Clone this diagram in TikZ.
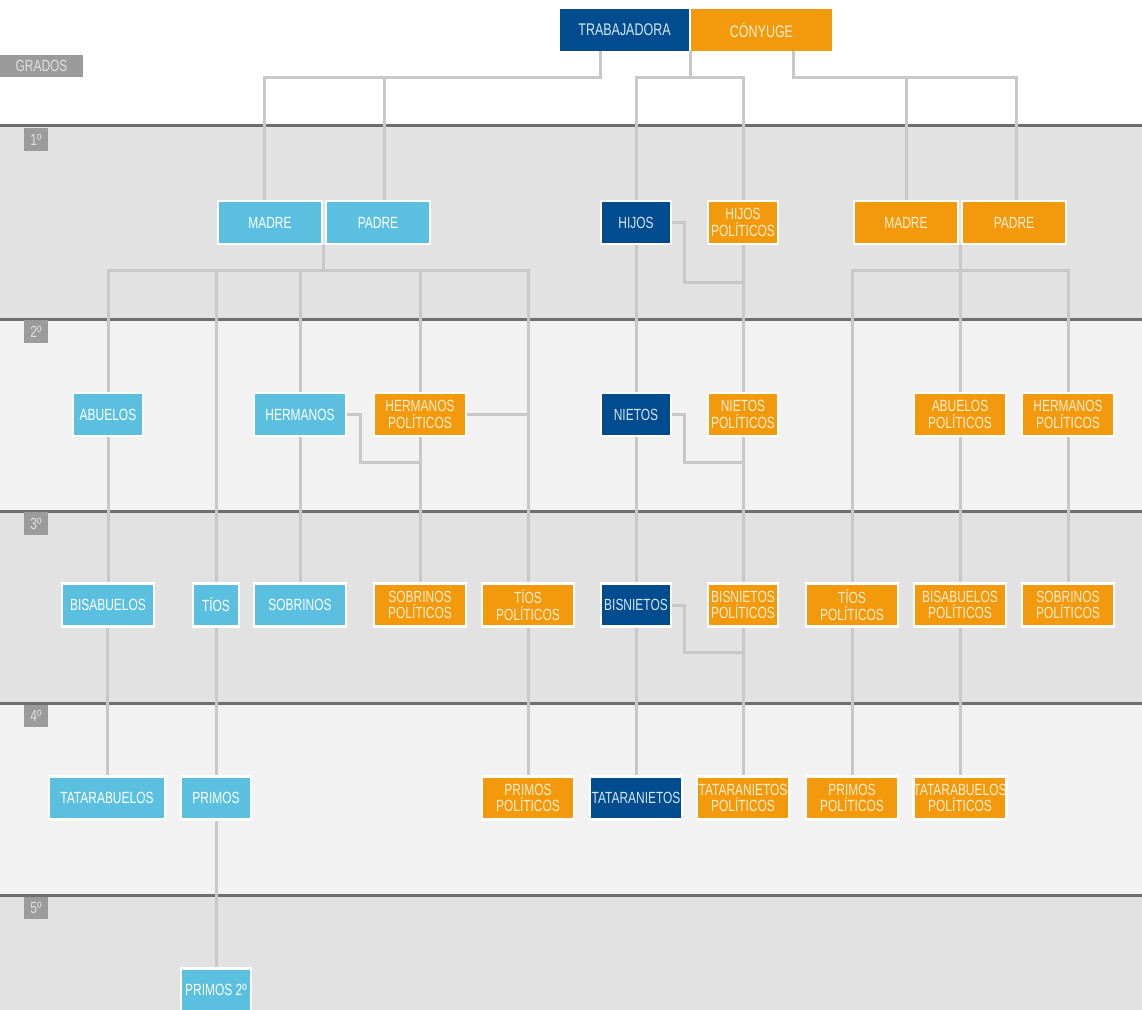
\documentclass[tikz,border=0pt]{standalone}
\usepackage{fontspec}
\usepackage{xcolor}
\usepackage{tikz}
\usetikzlibrary{backgrounds}
\newfontfamily\condfont{Liberation Sans}[FakeStretch=0.74]
\definecolor{myblue}{RGB}{91,192,224}
\definecolor{mynavy}{RGB}{0,76,142}
\definecolor{myorange}{RGB}{243,153,12}
\definecolor{mywire}{RGB}{200,200,200}
\definecolor{mysep}{RGB}{110,110,110}
\definecolor{banddark}{RGB}{226,226,226}
\definecolor{bandlight}{RGB}{242,242,242}
\definecolor{tagbg}{RGB}{155,155,155}
\definecolor{txtorange}{RGB}{255,238,210}
\definecolor{txtnavy}{RGB}{215,230,245}
\tikzset{
  famnode/.style={rectangle, draw=white, line width=0.048cm, inner sep=0pt,
    minimum height=0.86cm, align=center,
    font=\condfont\fontsize{9.2}{9.3}\selectfont},
  bluenode/.style={famnode, fill=myblue, text=white},
  navynode/.style={famnode, fill=mynavy, text=txtnavy},
  orangenode/.style={famnode, fill=myorange, text=txtorange},
  topnode/.style={rectangle, inner sep=0pt, minimum height=0.84cm,
    font=\condfont\fontsize{9.6}{9.6}\selectfont},
  tagnode/.style={rectangle, fill=tagbg, text=white!88!black, inner sep=0pt,
    minimum height=0.45cm, font=\condfont\fontsize{9.2}{9.2}\selectfont},
  conn/.style={draw=mywire, line width=0.06cm},
  sepline/.style={draw=mysep, line width=0.06cm}
}

\begin{document}
\begin{tikzpicture}[x=0.02cm, y=-0.02cm]
  \useasboundingbox (0,0) rectangle (1142,1010);

  % Grade bands
  \begin{pgfonlayer}{background}
    \fill[white] (0,0) rectangle (1142,126);
    \fill[banddark] (0,126) rectangle (1142,319);
    \fill[bandlight] (0,319) rectangle (1142,511);
    \fill[banddark] (0,511) rectangle (1142,703);
    \fill[bandlight] (0,703) rectangle (1142,895);
    \fill[banddark] (0,895) rectangle (1142,1010);
    \foreach \y in {126,319,511,703,895}
      \draw[sepline] (0,\y) -- (1142,\y);
  \end{pgfonlayer}

  % Grade tags
  \node[tagnode, minimum width=1.66cm] (grados) at (41.5,66) {GRADOS};
  \node[tagnode, minimum width=0.48cm] (g1) at (36,139.5) {1º};
  \node[tagnode, minimum width=0.48cm] (g2) at (36,331.5) {2º};
  \node[tagnode, minimum width=0.48cm] (g3) at (36,523.5) {3º};
  \node[tagnode, minimum width=0.48cm] (g4) at (36,716) {4º};
  \node[tagnode, minimum width=0.48cm] (g5) at (36,908) {5º};

  % Couple
  \node[topnode, fill=mynavy, text=txtnavy, minimum width=2.58cm] (trab) at (624.5,30) {TRABAJADORA};
  \node[topnode, fill=myorange, text=txtorange, minimum width=2.82cm] (cony) at (761.5,30) {CÓNYUGE};

  % Grade 1
  \node[bluenode, minimum width=2.08cm] (madre_t) at (270,222.5) {MADRE};
  \node[bluenode, minimum width=2.08cm] (padre_t) at (378,222.5) {PADRE};
  \node[navynode, minimum width=1.40cm] (hijos) at (636,222.5) {HIJOS};
  \node[orangenode, minimum width=1.40cm] (hijos_p) at (743,222.5) {HIJOS\\POLÍTICOS};
  \node[orangenode, minimum width=2.08cm] (madre_c) at (906,222.5) {MADRE};
  \node[orangenode, minimum width=2.08cm] (padre_c) at (1014,222.5) {PADRE};

  % Grade 2
  \node[bluenode, minimum width=1.40cm] (abuelos) at (108,414.5) {ABUELOS};
  \node[bluenode, minimum width=1.84cm] (hermanos) at (300,414.5) {HERMANOS};
  \node[orangenode, minimum width=1.84cm] (hermanos_p) at (420,414.5) {HERMANOS\\POLÍTICOS};
  \node[navynode, minimum width=1.40cm] (nietos) at (636,414.5) {NIETOS};
  \node[orangenode, minimum width=1.40cm] (nietos_p) at (743,414.5) {NIETOS\\POLÍTICOS};
  \node[orangenode, minimum width=1.84cm] (abuelos_c) at (960,414.5) {ABUELOS\\POLÍTICOS};
  \node[orangenode, minimum width=1.84cm] (hermanos_c) at (1068,414.5) {HERMANOS\\POLÍTICOS};

  % Grade 3
  \node[bluenode, minimum width=1.84cm] (bisabuelos) at (108,605) {BISABUELOS};
  \node[bluenode, minimum width=0.92cm] (tios) at (216,605) {TÍOS};
  \node[bluenode, minimum width=1.84cm] (sobrinos) at (300,605) {SOBRINOS};
  \node[orangenode, minimum width=1.84cm] (sobrinos_p) at (420,605) {SOBRINOS\\POLÍTICOS};
  \node[orangenode, minimum width=1.84cm] (tios_p) at (528,605) {TÍOS\\POLÍTICOS};
  \node[navynode, minimum width=1.40cm] (bisnietos) at (636,605) {BISNIETOS};
  \node[orangenode, minimum width=1.40cm] (bisnietos_p) at (743,605) {BISNIETOS\\POLÍTICOS};
  \node[orangenode, minimum width=1.84cm] (tios_c) at (852,605) {TÍOS\\POLÍTICOS};
  \node[orangenode, minimum width=1.84cm] (bisabuelos_c) at (960,605) {BISABUELOS\\POLÍTICOS};
  \node[orangenode, minimum width=1.84cm] (sobrinos_c) at (1068,605) {SOBRINOS\\POLÍTICOS};

  % Grade 4
  \node[bluenode, minimum width=2.32cm] (tatarabuelos) at (107,798) {TATARABUELOS};
  \node[bluenode, minimum width=1.40cm] (primos) at (216,798) {PRIMOS};
  \node[orangenode, minimum width=1.84cm] (primos_p) at (528,798) {PRIMOS\\POLÍTICOS};
  \node[navynode, minimum width=1.84cm] (tataranietos) at (636,798) {TATARANIETOS};
  \node[orangenode, minimum width=1.84cm] (tataranietos_p) at (743,798) {TATARANIETOS\\POLÍTICOS};
  \node[orangenode, minimum width=1.84cm] (primos_c) at (852,798) {PRIMOS\\POLÍTICOS};
  \node[orangenode, minimum width=1.84cm] (tatarabuelos_c) at (960,798) {TATARABUELOS\\POLÍTICOS};

  % Grade 5
  \node[bluenode, minimum width=1.40cm] (primos_2) at (216,990) {PRIMOS 2º};

  % Junction points
  \coordinate (j_trab) at (600,78);
  \coordinate (j_madre) at (264,78);
  \coordinate (j_padre) at (384,78);
  \coordinate (j_hijos) at (690,78);
  \coordinate (j_cony) at (793,78);
  \coordinate (j_padre_c) at (1016,78);
  \coordinate (j_blue) at (323,270);
  \coordinate (j_orange) at (960,270);
  \coordinate (k_hijos) at (684,282);
  \coordinate (k_herm) at (360,462);
  \coordinate (k_nietos) at (684,462);
  \coordinate (k_bisn) at (684,652);

  \begin{pgfonlayer}{background}
    % From the couple
    \draw[conn] (trab.south -| j_trab) -- (j_trab) -- (j_madre) -- (madre_t.north -| j_madre);
    \draw[conn] (j_padre) -- (padre_t.north -| j_padre);
    \draw[conn] (trab.south -| j_hijos) -- (j_hijos);
    \draw[conn] (hijos.north) |- (hijos_p.north |- j_hijos) -- (hijos_p.north);
    \draw[conn] (cony.south -| j_cony) -- (j_cony) -- (j_padre_c) -- (padre_c.north -| j_padre_c);
    \draw[conn] (madre_c.north |- j_cony) -- (madre_c.north);

    % Worker's parents
    \draw[conn] (madre_t.south -| j_blue) -- (j_blue);
    \draw[conn] (abuelos.north) |- (tios_p.north |- j_blue) -- (tios_p.north);
    \draw[conn] (tios.north |- j_blue) -- (tios.north);
    \draw[conn] (hermanos.north |- j_blue) -- (hermanos.north);
    \draw[conn] (hermanos_p.north |- j_blue) -- (hermanos_p.north);
    \draw[conn] (hermanos_p.east) -- (hermanos_p.east -| tios_p.north);
    \draw[conn] (hermanos.east) -| (k_herm) -- (k_herm -| hermanos_p.south);
    \draw[conn] (abuelos.south) -- (bisabuelos.north);
    \draw[conn] (hermanos.south) -- (sobrinos.north);
    \draw[conn] (hermanos_p.south) -- (sobrinos_p.north);
    \draw[conn] (bisabuelos.south -| tatarabuelos.north) -- (tatarabuelos.north);
    \draw[conn] (tios.south) -- (primos.north);
    \draw[conn] (tios_p.south) -- (primos_p.north);
    \draw[conn] (primos.south) -- (primos_2.north);

    % Descendants
    \draw[conn] (hijos.south) -- (nietos.north);
    \draw[conn] (hijos_p.south) -- (nietos_p.north);
    \draw[conn] (hijos.east) -| (k_hijos) -- (k_hijos -| hijos_p.south);
    \draw[conn] (nietos.south) -- (bisnietos.north);
    \draw[conn] (nietos_p.south) -- (bisnietos_p.north);
    \draw[conn] (nietos.east) -| (k_nietos) -- (k_nietos -| nietos_p.south);
    \draw[conn] (bisnietos.south) -- (tataranietos.north);
    \draw[conn] (bisnietos_p.south) -- (tataranietos_p.north);
    \draw[conn] (bisnietos.east) -| (k_bisn) -- (k_bisn -| bisnietos_p.south);

    % Spouse's parents
    \draw[conn] (madre_c.south -| j_orange) -- (j_orange);
    \draw[conn] (tios_c.north) |- (hermanos_c.north |- j_orange) -- (hermanos_c.north);
    \draw[conn] (abuelos_c.north |- j_orange) -- (abuelos_c.north);
    \draw[conn] (abuelos_c.south) -- (bisabuelos_c.north);
    \draw[conn] (hermanos_c.south) -- (sobrinos_c.north);
    \draw[conn] (tios_c.south) -- (primos_c.north);
    \draw[conn] (bisabuelos_c.south) -- (tatarabuelos_c.north);
  \end{pgfonlayer}
\end{tikzpicture}
\end{document}
